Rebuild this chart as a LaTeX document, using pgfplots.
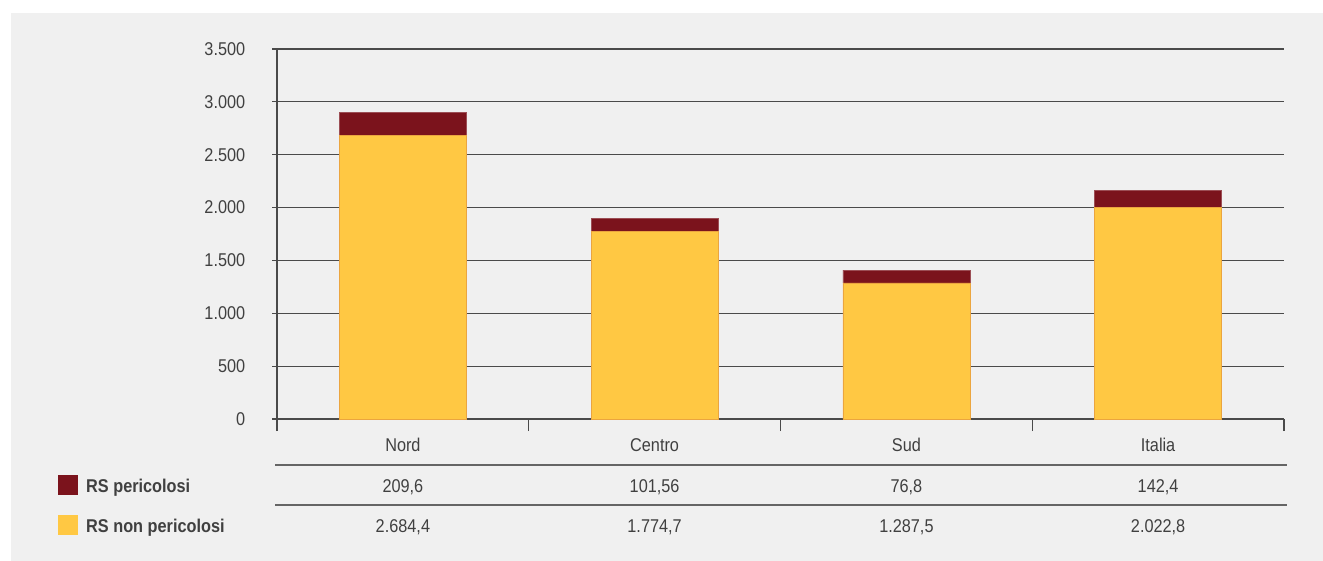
\documentclass[border=0pt]{standalone}
\usepackage{pgfplots}
\pgfplotsset{compat=1.18}
\usepackage{fontspec}
\setmainfont{Liberation Sans}[FakeStretch=0.88]
\definecolor{bg}{HTML}{F0F0F0}
\definecolor{dred}{HTML}{7B131C}
\definecolor{yel}{HTML}{FFC843}
\definecolor{yeledge}{HTML}{EBA53F}
\definecolor{txt}{HTML}{404040}
\definecolor{gridc}{HTML}{4A4A4A}
\begin{document}
\begin{tikzpicture}[x=1pt,y=1pt]
\useasboundingbox (0,0) rectangle (1323,560);
\fill[white] (-10,-10) rectangle (1340,570);
\fill[bg] (11,-10) rectangle (1340,547);
\begin{axis}[
  at={(277pt,141pt)}, anchor=south west,
  scale only axis, width=1007pt, height=370pt,
  xmin=-0.5, xmax=3.5, ymin=0, ymax=3500,
  ytick={0,500,...,3500},
  xtick={-0.5,0.5,1.5,2.5,3.5}, xticklabels={},
  ymajorgrids, grid style={gridc, line width=1.2pt},
  axis x line*=bottom, axis y line*=left,
  axis line style={gridc, line width=1.2pt, -},
  tick align=outside,
  tick style={gridc, line width=1.2pt},
  xtick style={/pgfplots/major tick length=12pt},
  ytick style={/pgfplots/major tick length=5pt},
  yticklabel style={font=\fontsize{18.5}{20}\selectfont, text=txt, xshift=-24pt},
  ybar stacked, bar width=127pt, clip=false,
  /pgf/number format/use comma,
  /pgf/number format/1000 sep={.},
  /pgf/number format/assume math mode=true,
]
\addplot[fill=yel, draw=yeledge] coordinates {(0,2684.4) (1,1774.7) (2,1287.5) (3,2003)};
\addplot[fill=dred, draw=dred!75!white] coordinates {(0,216) (1,126) (2,120) (3,162)};
\end{axis}
\begin{scope}[every node/.style={font=\fontsize{18.5}{20}\selectfont, text=txt, inner sep=0pt, anchor=base}]
\node at (402.9,108) {Nord};
\node at (654.6,108) {Centro};
\node at (906.4,108) {Sud};
\node at (1158.1,108) {Italia};
\draw[gridc!85!white, line width=1.2pt] (275,95) -- (1287,95);
\draw[gridc!85!white, line width=1.2pt] (275,55) -- (1287,55);
\node at (402.9,68) {209,6};
\node at (654.6,68) {101,56};
\node at (906.4,68) {76,8};
\node at (1158.1,68) {142,4};
\node at (402.9,28) {2.684,4};
\node at (654.6,28) {1.774,7};
\node at (906.4,28) {1.287,5};
\node at (1158.1,28) {2.022,8};
\fill[dred] (58,65) rectangle (78,85);
\fill[yel] (58,25) rectangle (78,45);
\node[anchor=base west, font=\fontsize{18.5}{20}\selectfont\bfseries] at (86,68) {RS pericolosi};
\node[anchor=base west, font=\fontsize{18.5}{20}\selectfont\bfseries] at (86,28) {RS non pericolosi};
\end{scope}
\end{tikzpicture}
\end{document}
